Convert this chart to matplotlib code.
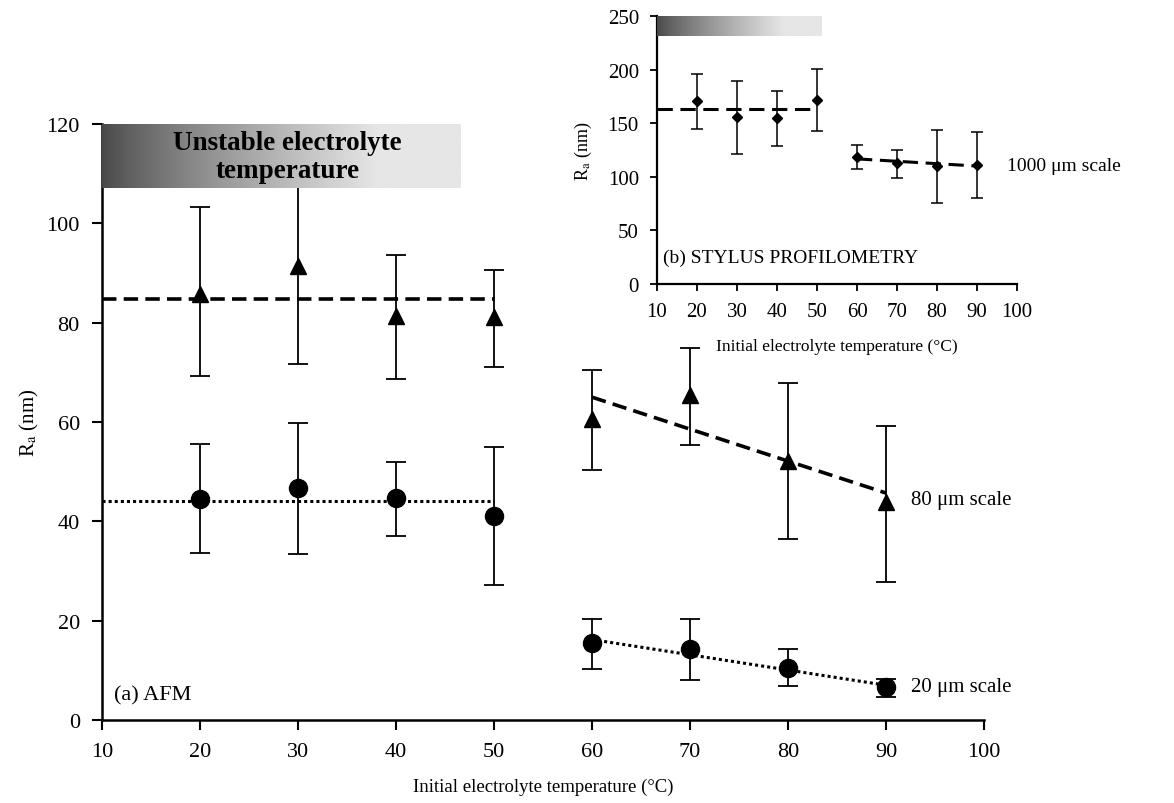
import matplotlib
matplotlib.use("Agg")
import matplotlib.pyplot as plt
import numpy as np

plt.rcParams['font.family'] = ['Liberation Serif', 'DejaVu Serif']
plt.rcParams['mathtext.fontset'] = 'stix'

# (a) AFM data
temps_low = [20, 30, 40, 50]
temps_high = [60, 70, 80, 90]

afm80_low = [85.8, 91.5, 81.4, 81.2]
afm80_low_hi = [103.2, 112.0, 93.7, 90.7]
afm80_low_lo = [69.2, 71.7, 68.6, 71.0]
afm80_high = [60.7, 65.4, 52.2, 43.9]
afm80_high_hi = [70.4, 74.9, 67.8, 59.1]
afm80_high_lo = [50.4, 55.3, 36.4, 27.7]
afm80_fit_low = 84.8
afm80_fit_high = [65.0, 45.7]

afm20_low = [44.5, 46.8, 44.7, 41.1]
afm20_low_hi = [55.5, 59.9, 52.0, 55.0]
afm20_low_lo = [33.6, 33.4, 37.0, 27.1]
afm20_high = [15.6, 14.2, 10.5, 6.7]
afm20_high_hi = [20.4, 20.4, 14.2, 8.3]
afm20_high_lo = [10.3, 8.1, 6.9, 4.7]
afm20_fit_low = 44.1
afm20_fit_high = [16.2, 7.0]

# (b) stylus profilometry data
sty_low = [170.4, 155.6, 154.6, 171.3]
sty_low_hi = [196.3, 188.9, 179.6, 200.9]
sty_low_lo = [144.4, 121.3, 128.7, 142.6]
sty_high = [118.5, 113.0, 110.0, 111.0]
sty_high_hi = [129.6, 125.0, 143.5, 141.7]
sty_high_lo = [107.4, 99.0, 75.9, 80.5]
sty_fit_low = 163.0
sty_fit_high = [116.7, 110.0]

unstable_range = [10, 46.6]
sty_unstable_range = [10, 51]

xticks = list(range(10, 101, 10))


def err(vals, hi, lo):
    v = np.array(vals)
    return [v - np.array(lo), np.array(hi) - v]


def draw_gradient(ax, x0, x1, y0, y1, z=5):
    grad = np.linspace(0, 1, 256)
    shade = 0.28 + 0.62 * np.clip(grad * 1.3, 0, 1) ** 0.8
    img = np.tile(shade, (2, 1))
    ax.imshow(img, extent=[x0, x1, y0, y1], cmap='gray', vmin=0, vmax=1,
              aspect='auto', zorder=z, interpolation='bilinear')


fig = plt.figure(figsize=(11.74, 8.04), dpi=100)

# ---- main axes (a) ----
ax = fig.add_axes([0.0869, 0.1032, 0.7513, 0.7413])
ebkw = dict(color='black', ecolor='black', elinewidth=1.3, capsize=7,
            capthick=1.3, linestyle='none', zorder=3)
ax.errorbar(temps_low, afm80_low, yerr=err(afm80_low, afm80_low_hi, afm80_low_lo),
            marker='^', markersize=12, **ebkw)
ax.errorbar(temps_high, afm80_high, yerr=err(afm80_high, afm80_high_hi, afm80_high_lo),
            marker='^', markersize=12, **ebkw)
ax.errorbar(temps_low, afm20_low, yerr=err(afm20_low, afm20_low_hi, afm20_low_lo),
            marker='o', markersize=13, **ebkw)
ax.errorbar(temps_high, afm20_high, yerr=err(afm20_high, afm20_high_hi, afm20_high_lo),
            marker='o', markersize=13, **ebkw)

ax.plot([10, 50], [afm80_fit_low] * 2, color='black', lw=2.6, ls=(0, (4, 2)), zorder=2)
ax.plot([60, 90], afm80_fit_high, color='black', lw=2.6, ls=(0, (4, 2)), zorder=2)
ax.plot([10, 50], [afm20_fit_low] * 2, color='black', lw=2.2, ls=(0, (1, 1)), zorder=2)
ax.plot([60, 90], afm20_fit_high, color='black', lw=2.2, ls=(0, (1, 1)), zorder=2)

draw_gradient(ax, unstable_range[0], unstable_range[1], 107.2, 120)
ax.text(28.9, 113.5, 'Unstable electrolyte\ntemperature',
        ha='center', va='center', fontsize=19.5, fontweight='bold',
        linespacing=1.15, zorder=6)

ax.text(92.5, 44.5, '80 \u03bcm scale', fontsize=15, va='center', ha='left')
ax.text(92.5, 6.7, '20 \u03bcm scale', fontsize=15, va='center', ha='left')
ax.text(11.2, 5.0, '(a) AFM', fontsize=16, va='center', ha='left')

ax.set_xlim(10, 100)
ax.set_ylim(0, 120)
ax.set_xticks(xticks)
ax.set_yticks(range(0, 121, 20))
ax.set_xlabel('Initial electrolyte temperature (\u00b0C)', fontsize=13.5, labelpad=12)
ax.set_ylabel('R$_\\mathrm{a}$ (nm)', fontsize=15, labelpad=4)
for s in ['top', 'right']:
    ax.spines[s].set_visible(False)
for s in ['left', 'bottom']:
    ax.spines[s].set_linewidth(1.8)
ax.tick_params(direction='out', length=7, width=1.5, labelsize=16, pad=9)
ax.set_facecolor('none')

# ---- inset axes (b) ----
ins = fig.add_axes([0.5596, 0.6455, 0.3067, 0.3334])
ebkw2 = dict(color='black', ecolor='black', elinewidth=1.1, capsize=4,
             capthick=1.1, linestyle='none', zorder=3)
ins.errorbar(temps_low, sty_low, yerr=err(sty_low, sty_low_hi, sty_low_lo),
             marker='D', markersize=5, **ebkw2)
ins.errorbar(temps_high, sty_high, yerr=err(sty_high, sty_high_hi, sty_high_lo),
             marker='D', markersize=5, **ebkw2)
ins.plot([10, 50], [sty_fit_low] * 2, color='black', lw=2.2, ls=(0, (5, 2.5)), zorder=2)
ins.plot([60, 90], sty_fit_high, color='black', lw=2.2, ls=(0, (5, 2.5)), zorder=2)

draw_gradient(ins, sty_unstable_range[0], sty_unstable_range[1], 231.5, 250)

ins.text(97.5, 111, '1000 \u03bcm scale', fontsize=14, va='center', ha='left')
ins.text(11.5, 25, '(b) STYLUS PROFILOMETRY', fontsize=14, va='center', ha='left')

ins.set_xlim(10, 100)
ins.set_ylim(0, 250)
ins.set_xticks(xticks)
ins.set_yticks(range(0, 251, 50))
ins.set_xlabel('Initial electrolyte temperature (\u00b0C)', fontsize=12.5, labelpad=12)
ins.set_ylabel('R$_\\mathrm{a}$ (nm)', fontsize=13, labelpad=10)
for s in ['top', 'right']:
    ins.spines[s].set_visible(False)
for s in ['left', 'bottom']:
    ins.spines[s].set_linewidth(1.6)
ins.tick_params(direction='out', length=5, width=1.3, labelsize=15, pad=8)
ins.set_facecolor('white')

fig.savefig('out.png', dpi=100)
